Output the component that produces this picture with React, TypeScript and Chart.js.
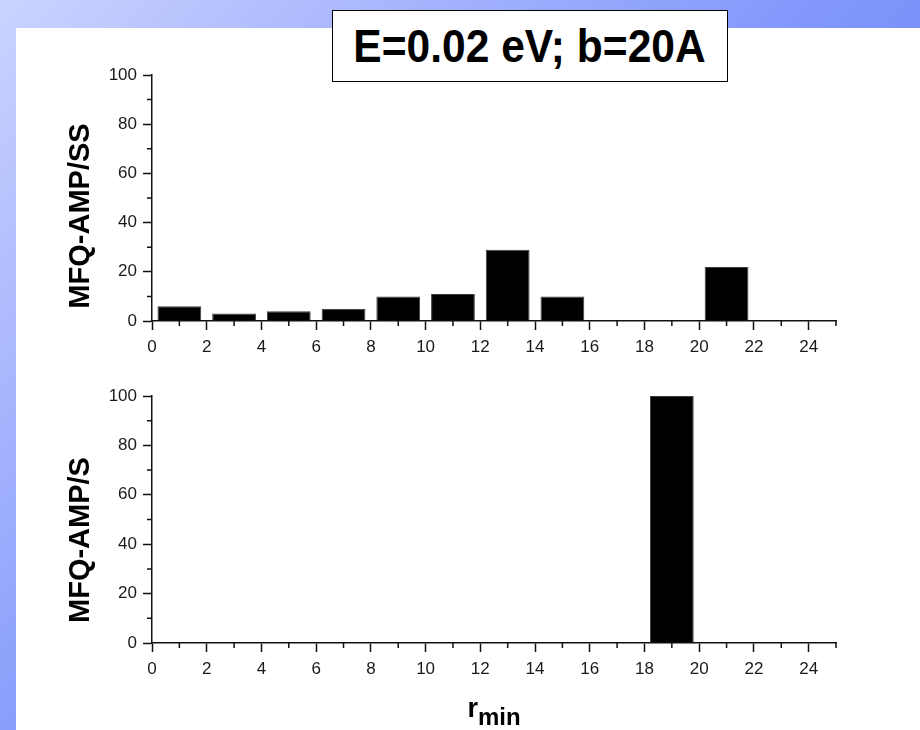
import React, { useEffect, useRef } from "react";
import { Chart, registerables } from "chart.js";

Chart.register(...registerables);

// ---------------- data ----------------
const titleText = "E=0.02 eV; b=20A";
const xAxisTitleMain = "r";
const xAxisTitleSub = "min";

const topAxisLabel = "MFQ-AMP/SS";
const topPositions = [1, 3, 5, 7, 9, 11, 13, 15, 21];
const topValues = [6, 3, 4, 5, 10, 11, 29, 10, 22];

const bottomAxisLabel = "MFQ-AMP/S";
const bottomPositions = [19];
const bottomValues = [100];

const xMin = 0;
const xMax = 25;
const yMin = 0;
const yMax = 100;
const xMajorTicks = [0, 2, 4, 6, 8, 10, 12, 14, 16, 18, 20, 22, 24];
const xMinorTicks = [1, 3, 5, 7, 9, 11, 13, 15, 17, 19, 21, 23, 25];
const yMajorTicks = [0, 20, 40, 60, 80, 100];
const yMinorTicks = [10, 30, 50, 70, 90];

// ---------------- styles ----------------
const FONT = "'Liberation Sans', Arial, Helvetica, sans-serif";
const AXIS_COLOR = "#111111";
const TICK_TEXT = "#1a1a1a";
const MAJOR_LEN = 9;
const MINOR_LEN = 5;

const minorTickPlugin = {
  id: "minorTicks",
  afterDraw(chart: any) {
    const { ctx, chartArea, scales } = chart;
    const xs = scales.x;
    const ys = scales.y;
    ctx.save();
    ctx.strokeStyle = AXIS_COLOR;
    ctx.lineWidth = 1.5;
    ctx.beginPath();
    for (const v of xMinorTicks) {
      const px = xs.getPixelForValue(v);
      ctx.moveTo(px, chartArea.bottom);
      ctx.lineTo(px, chartArea.bottom + MINOR_LEN);
    }
    for (const v of yMinorTicks) {
      const py = ys.getPixelForValue(v);
      ctx.moveTo(chartArea.left, py);
      ctx.lineTo(chartArea.left - MINOR_LEN, py);
    }
    ctx.stroke();
    ctx.restore();
  },
};

function makeConfig(positions: number[], values: number[], padTop: number, xAxisHeight: number): any {
  return {
    type: "bar",
    data: {
      datasets: [
        {
          data: positions.map((p, i) => ({ x: p, y: values[i] })),
          backgroundColor: "#000000",
          borderColor: "#3c3c3c",
          borderWidth: 1,
          barPercentage: 0.8,
          categoryPercentage: 1,
        },
      ],
    },
    options: {
      responsive: false,
      animation: false,
      events: [],
      layout: { padding: { top: padTop, right: 84, left: 0, bottom: 0 } },
      plugins: {
        legend: { display: false },
        tooltip: { enabled: false },
        title: { display: false },
      },
      scales: {
        x: {
          type: "linear",
          min: xMin,
          max: xMax,
          offset: false,
          afterBuildTicks: (s: any) => {
            s.ticks = xMajorTicks.map((v) => ({ value: v }));
          },
          afterFit: (s: any) => {
            s.height = xAxisHeight;
          },
          ticks: {
            autoSkip: false,
            maxRotation: 0,
            padding: 7,
            color: TICK_TEXT,
            font: { family: FONT, size: 17 },
          },
          grid: {
            offset: false,
            drawOnChartArea: false,
            drawTicks: true,
            tickLength: MAJOR_LEN,
            tickWidth: 1.5,
            tickColor: AXIS_COLOR,
          },
          border: { display: true, color: AXIS_COLOR, width: 1.5 },
        },
        y: {
          min: yMin,
          max: yMax,
          afterBuildTicks: (s: any) => {
            s.ticks = yMajorTicks.map((v) => ({ value: v }));
          },
          afterFit: (s: any) => {
            s.width = 152;
          },
          ticks: {
            padding: 6,
            color: TICK_TEXT,
            font: { family: FONT, size: 17 },
          },
          grid: {
            drawOnChartArea: false,
            drawTicks: true,
            tickLength: MAJOR_LEN,
            tickWidth: 1.5,
            tickColor: AXIS_COLOR,
          },
          border: { display: true, color: AXIS_COLOR, width: 1.5 },
        },
      },
    },
    plugins: [minorTickPlugin],
  };
}

function BarPanel(props: {
  positions: number[];
  values: number[];
  top: number;
  height: number;
  padTop: number;
  xAxisHeight: number;
}) {
  const ref = useRef<HTMLCanvasElement | null>(null);
  useEffect(() => {
    if (!ref.current) return;
    const chart = new Chart(
      ref.current,
      makeConfig(props.positions, props.values, props.padTop, props.xAxisHeight)
    );
    return () => chart.destroy();
  }, []);
  return (
    <canvas
      ref={ref}
      width={920}
      height={props.height}
      style={{ position: "absolute", left: 0, top: props.top, width: 920, height: props.height }}
    />
  );
}

function YLabel(props: { text: string; cx: number; cy: number }) {
  return (
    <div
      style={{
        position: "absolute",
        left: props.cx,
        top: props.cy,
        transform: "translate(-50%, -50%) rotate(-90deg)",
        whiteSpace: "nowrap",
        fontFamily: FONT,
        fontWeight: "bold",
        fontSize: 29,
        lineHeight: "29px",
        color: "#000",
      }}
    >
      {props.text}
    </div>
  );
}

export default function App() {
  return (
    <div
      style={{
        position: "absolute",
        left: 0,
        top: 0,
        width: 920,
        height: 730,
        overflow: "hidden",
        background: "linear-gradient(135deg, #cbd3ff 0%, #8197fb 50%, #5a74f2 100%)",
      }}
    >
      <div
        style={{ position: "absolute", left: 16, top: 28, right: 0, bottom: 0, background: "#ffffff" }}
      />
      <BarPanel positions={topPositions} values={topValues} top={50} height={320} padTop={25} xAxisHeight={49} />
      <BarPanel positions={bottomPositions} values={bottomValues} top={370} height={360} padTop={26} xAxisHeight={87} />
      <YLabel text={topAxisLabel} cx={78.5} cy={216} />
      <YLabel text={bottomAxisLabel} cx={78.5} cy={540} />
      <div
        style={{
          position: "absolute",
          left: 494,
          top: 694,
          transform: "translateX(-50%)",
          whiteSpace: "nowrap",
          fontFamily: FONT,
          fontWeight: "bold",
          color: "#000",
          lineHeight: "28px",
        }}
      >
        <span style={{ fontSize: 27 }}>{xAxisTitleMain}</span>
        <span style={{ fontSize: 24, position: "relative", top: 8 }}>{xAxisTitleSub}</span>
      </div>
      <div
        style={{
          position: "absolute",
          left: 332,
          top: 10,
          width: 396,
          height: 72,
          boxSizing: "border-box",
          border: "1.5px solid #000",
          background: "#ffffff",
          display: "flex",
          alignItems: "center",
          justifyContent: "center",
          overflow: "hidden",
        }}
      >
        <div
          style={{
            fontFamily: FONT,
            fontWeight: "bold",
            fontSize: 46,
            lineHeight: "46px",
            color: "#000",
            whiteSpace: "nowrap",
            transform: "scaleX(0.925)",
          }}
        >
          {titleText}
        </div>
      </div>
    </div>
  );
}
